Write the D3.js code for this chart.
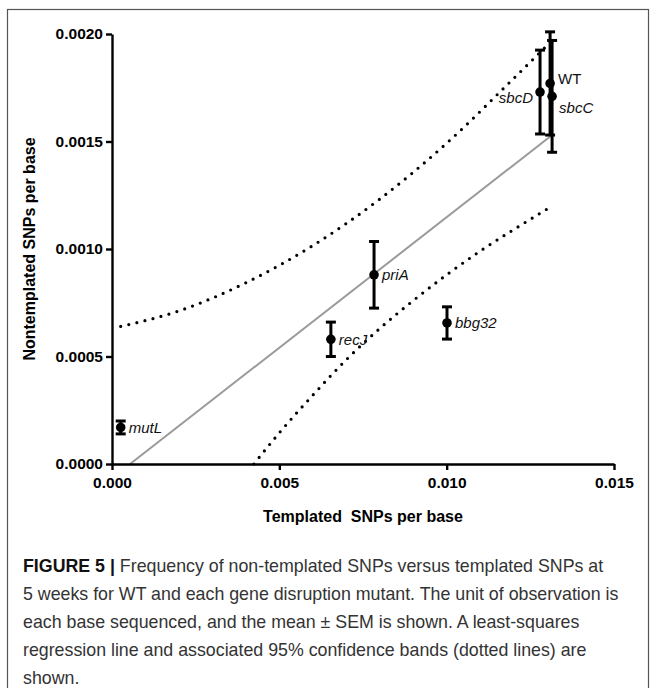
<!DOCTYPE html>
<html>
<head>
<meta charset="utf-8">
<script src="https://cdn.jsdelivr.net/npm/d3@7/dist/d3.min.js"></script>
<style>
  html, body { margin: 0; padding: 0; background: #fff; }
  svg { display: block; }
</style>
</head>
<body>
<svg id="chart" width="657" height="688"></svg>
<script>
// ---- data ----
const genes = ["mutL", "recJ", "priA", "bbg32", "sbcD", "WT", "sbcC"];
const templated = [0.00026, 0.00654, 0.00783, 0.01001, 0.01279, 0.01309, 0.01315];
const nontemplated = [0.00017, 0.00058, 0.00088, 0.000656, 0.00173, 0.00177, 0.00171];
const sem = [0.00003, 0.00008, 0.000155, 0.000075, 0.000195, 0.00024, 0.00026];

const fitX = [0.00054, 0.01315];
const fitY = [0.0, 0.00153];

const upperX = [0.00026, 0.002, 0.004, 0.006, 0.008, 0.010, 0.012, 0.01315];
const upperY = [0.00064, 0.000712, 0.000843, 0.001016, 0.001232, 0.001492, 0.001793, 0.00197];
const lowerX = [0.00424, 0.005, 0.006, 0.007, 0.008, 0.009, 0.010, 0.011, 0.012, 0.01315];
const lowerY = [0.0, 0.000145, 0.00032, 0.000485, 0.00063, 0.00076, 0.00088, 0.00099, 0.00109, 0.0012];

const xTicks = [0, 0.005, 0.010, 0.015];
const yTicks = [0, 0.0005, 0.0010, 0.0015, 0.0020];
const xTitle = "Templated\u00a0 SNPs per base";
const yTitle = "Nontemplated SNPs per base";
const captionLines = [
  [["FIGURE 5 | ", true], ["Frequency of non-templated SNPs versus templated SNPs at", false]],
  [["5 weeks for WT and each gene disruption mutant. The unit of observation is", false]],
  [["each base sequenced, and the mean \u00b1 SEM is shown. A least-squares", false]],
  [["regression line and associated 95% confidence bands (dotted lines) are", false]],
  [["shown.", false]]
];

// ---- layout ----
const svg = d3.select("#chart");
const font = "'Liberation Sans', Arial, sans-serif";

// frame
svg.append("rect").attr("x", 7.5).attr("y", 9.5).attr("width", 641).attr("height", 700)
  .attr("fill", "none").attr("stroke", "#555").attr("stroke-width", 1.2);

const x = d3.scaleLinear().domain([0, 0.015]).range([112, 614]);
const y = d3.scaleLinear().domain([0, 0.002]).range([464, 34]);

const g = svg.append("g");

// regression line
g.append("line")
  .attr("x1", x(fitX[0])).attr("y1", y(fitY[0]))
  .attr("x2", x(fitX[1])).attr("y2", y(fitY[1]))
  .attr("stroke", "#9a9a9a").attr("stroke-width", 2);

// confidence bands
const bandLine = d3.line().curve(d3.curveMonotoneX).x(d => x(d[0])).y(d => y(d[1]));
[[upperX, upperY], [lowerX, lowerY]].forEach(([bx, by]) => {
  g.append("path")
    .attr("d", bandLine(bx.map((v, i) => [v, by[i]])))
    .attr("fill", "none").attr("stroke", "#000").attr("stroke-width", 3.2)
    .attr("stroke-linecap", "round").attr("stroke-dasharray", "0 8.3");
});

// axes
const xAxis = d3.axisBottom(x).tickValues(xTicks).tickFormat(d3.format(".3f")).tickSize(6).tickSizeOuter(0);
const yAxis = d3.axisLeft(y).tickValues(yTicks).tickFormat(d3.format(".4f")).tickSize(6).tickSizeOuter(0);

const gx = svg.append("g").attr("transform", `translate(0,${y(0)})`).call(xAxis);
const gy = svg.append("g").attr("transform", `translate(${x(0)},0)`).call(yAxis);
[gx, gy].forEach(a => {
  a.select(".domain").attr("stroke", "#000").attr("stroke-width", 2.4);
  a.selectAll(".tick line").attr("stroke", "#000").attr("stroke-width", 2.4);
  a.selectAll(".tick text").attr("fill", "#000").attr("font-family", font)
    .attr("font-weight", "bold").attr("font-size", 15.5);
});
gx.selectAll(".tick text").attr("dy", "0.98em");

svg.append("text").attr("x", x(0.0075)).attr("y", 522).attr("text-anchor", "middle")
  .attr("font-family", font).attr("font-weight", "bold").attr("font-size", 16)
  .text(xTitle);
svg.append("text").attr("transform", `translate(35,${y(0.001)}) rotate(-90)`)
  .attr("text-anchor", "middle")
  .attr("font-family", font).attr("font-weight", "bold").attr("font-size", 16)
  .text(yTitle);

// error bars and points
const pts = genes.map((name, i) => ({ name, x: templated[i], y: nontemplated[i], e: sem[i] }));
const capW = 5;
const eb = g.selectAll(".eb").data(pts).join("g");
eb.append("line").attr("x1", d => x(d.x)).attr("x2", d => x(d.x))
  .attr("y1", d => y(d.y + d.e)).attr("y2", d => y(d.y - d.e))
  .attr("stroke", "#000").attr("stroke-width", 3);
eb.append("line").attr("x1", d => x(d.x) - capW).attr("x2", d => x(d.x) + capW)
  .attr("y1", d => y(d.y + d.e)).attr("y2", d => y(d.y + d.e))
  .attr("stroke", "#000").attr("stroke-width", 3);
eb.append("line").attr("x1", d => x(d.x) - capW).attr("x2", d => x(d.x) + capW)
  .attr("y1", d => y(d.y - d.e)).attr("y2", d => y(d.y - d.e))
  .attr("stroke", "#000").attr("stroke-width", 3);
eb.append("circle").attr("cx", d => x(d.x)).attr("cy", d => y(d.y)).attr("r", 4.8).attr("fill", "#000");

// point labels
const labelPlace = { sbcD: { dx: -7, dy: 6, anchor: "end" }, WT: { dx: 8, dy: -5, anchor: "start" }, sbcC: { dx: 7, dy: 11, anchor: "start" } };
g.selectAll(".lbl").data(pts).join("text")
  .attr("x", d => x(d.x) + (labelPlace[d.name] ? labelPlace[d.name].dx : 8))
  .attr("y", d => y(d.y) + (labelPlace[d.name] ? labelPlace[d.name].dy : 0))
  .attr("dy", "0.35em")
  .attr("text-anchor", d => labelPlace[d.name] ? labelPlace[d.name].anchor : "start")
  .attr("font-family", font).attr("font-size", 15)
  .attr("font-style", d => d.name === "WT" ? "normal" : "italic")
  .attr("fill", "#111")
  .text(d => d.name);

// caption
const cap = svg.append("g");
captionLines.forEach((parts, i) => {
  const t = cap.append("text").attr("x", 23).attr("y", 572 + i * 28)
    .attr("font-family", font).attr("font-size", 17.8).attr("fill", "#333");
  parts.forEach(([s, b]) => {
    t.append("tspan").attr("font-weight", b ? "bold" : "normal").attr("fill", b ? "#111" : "#333").text(s);
  });
});
</script>
</body>
</html>
